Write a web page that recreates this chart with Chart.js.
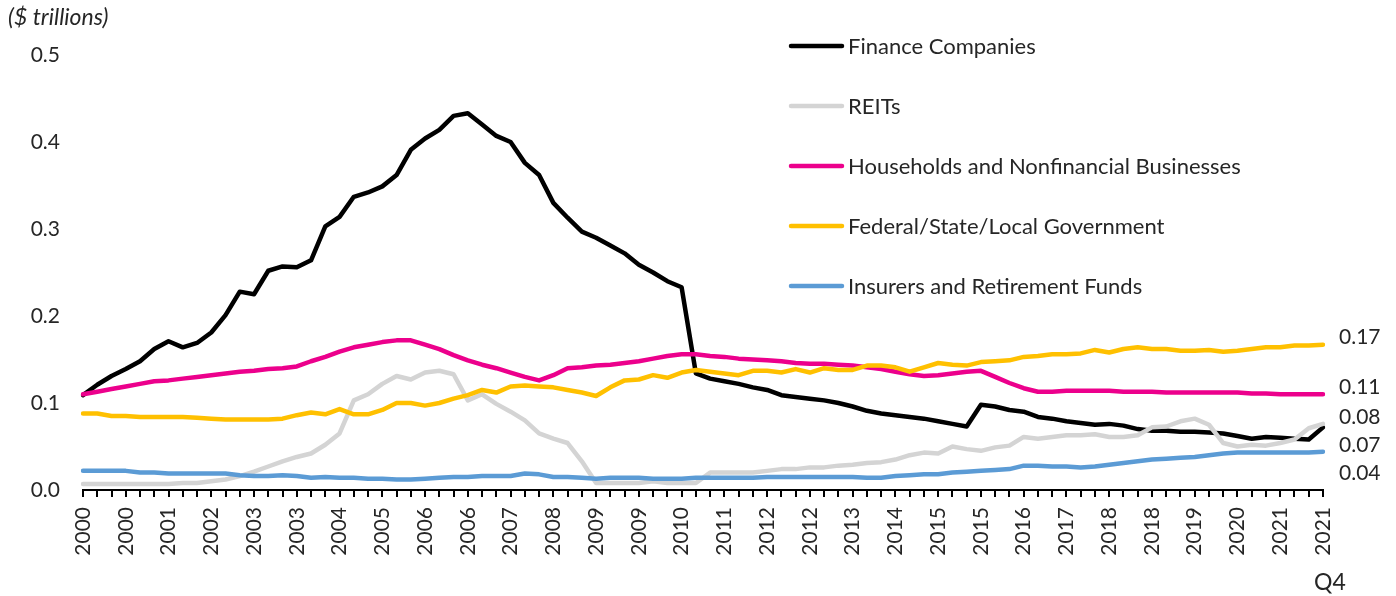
<!DOCTYPE html>
<html>
<head>
<meta charset="utf-8">
<title>Nonbank lenders</title>
<script src="https://cdn.jsdelivr.net/npm/chart.js"></script>
<style>
  html, body { margin: 0; padding: 0; background: #fff; }
  #wrap { position: relative; width: 1396px; height: 596px; }
</style>
</head>
<body>
<div id="wrap"><canvas id="chLine" width="1396" height="596"></canvas></div>
<script>
// quarterly, 2000 Q1 .. 2021 Q4
const years = [2000, 2001, 2002, 2003, 2004, 2005, 2006, 2007, 2008, 2009, 2010,
  2011, 2012, 2013, 2014, 2015, 2016, 2017, 2018, 2019, 2020, 2021];
const quarters = ["Q1", "Q2", "Q3", "Q4"];
const categories = [];
years.forEach(function (y) {
  quarters.forEach(function (q) { categories.push(y + " " + q); });
});

const seriesNames = ["Finance Companies", "REITs", "Households and Nonfinancial Businesses",
  "Federal/State/Local Government", "Insurers and Retirement Funds"];
const seriesColors = ["#000000", "#d4d4d4", "#ec008c", "#ffc000", "#5b9bd5"];

const financeCos = [0.109, 0.121, 0.131, 0.139, 0.148, 0.162, 0.171, 0.164, 0.169, 0.181,
  0.201, 0.228, 0.225, 0.252, 0.257, 0.256, 0.264, 0.303, 0.314, 0.337,
  0.342, 0.349, 0.362, 0.391, 0.404, 0.414, 0.430, 0.433, 0.420, 0.407,
  0.400, 0.376, 0.362, 0.330, 0.313, 0.297, 0.290, 0.281, 0.272, 0.259,
  0.250, 0.240, 0.233, 0.134, 0.128, 0.125, 0.122, 0.118, 0.115, 0.109,
  0.107, 0.105, 0.103, 0.100, 0.096, 0.091, 0.088, 0.086, 0.084, 0.082,
  0.079, 0.076, 0.073, 0.098, 0.096, 0.092, 0.090, 0.084, 0.082, 0.079,
  0.077, 0.075, 0.076, 0.074, 0.070, 0.068, 0.068, 0.067, 0.067, 0.066,
  0.065, 0.062, 0.059, 0.061, 0.060, 0.059, 0.058, 0.072];

const reits = [0.007, 0.007, 0.007, 0.007, 0.007, 0.007, 0.007, 0.008, 0.008, 0.010,
  0.012, 0.016, 0.021, 0.027, 0.033, 0.038, 0.042, 0.052, 0.065, 0.103,
  0.110, 0.122, 0.131, 0.127, 0.135, 0.137, 0.133, 0.103, 0.110, 0.099,
  0.090, 0.080, 0.065, 0.059, 0.054, 0.033, 0.008, 0.008, 0.008, 0.008,
  0.010, 0.008, 0.008, 0.008, 0.020, 0.020, 0.020, 0.020, 0.022, 0.024,
  0.024, 0.026, 0.026, 0.028, 0.029, 0.031, 0.032, 0.035, 0.040, 0.043,
  0.042, 0.050, 0.047, 0.045, 0.049, 0.051, 0.061, 0.059, 0.061, 0.063,
  0.063, 0.064, 0.061, 0.061, 0.063, 0.072, 0.073, 0.079, 0.082, 0.075,
  0.054, 0.050, 0.052, 0.051, 0.054, 0.058, 0.071, 0.076];

const households = [0.110, 0.113, 0.116, 0.119, 0.122, 0.125, 0.126, 0.128, 0.130, 0.132,
  0.134, 0.136, 0.137, 0.139, 0.140, 0.142, 0.148, 0.153, 0.159, 0.164,
  0.167, 0.170, 0.172, 0.172, 0.167, 0.162, 0.155, 0.149, 0.144, 0.140,
  0.135, 0.130, 0.126, 0.132, 0.140, 0.141, 0.143, 0.144, 0.146, 0.148,
  0.151, 0.154, 0.156, 0.156, 0.154, 0.153, 0.151, 0.150, 0.149, 0.148,
  0.146, 0.145, 0.145, 0.144, 0.143, 0.141, 0.139, 0.136, 0.133, 0.131,
  0.132, 0.134, 0.136, 0.137, 0.130, 0.123, 0.117, 0.113, 0.113, 0.114,
  0.114, 0.114, 0.114, 0.113, 0.113, 0.113, 0.112, 0.112, 0.112, 0.112,
  0.112, 0.112, 0.111, 0.111, 0.110, 0.110, 0.110, 0.110];

const government = [0.088, 0.088, 0.085, 0.085, 0.084, 0.084, 0.084, 0.084, 0.083, 0.082,
  0.081, 0.081, 0.081, 0.081, 0.082, 0.086, 0.089, 0.087, 0.093, 0.087,
  0.087, 0.092, 0.100, 0.100, 0.097, 0.100, 0.105, 0.109, 0.115, 0.112,
  0.119, 0.120, 0.119, 0.118, 0.115, 0.112, 0.108, 0.118, 0.126, 0.127,
  0.132, 0.129, 0.135, 0.138, 0.136, 0.134, 0.132, 0.137, 0.137, 0.135,
  0.139, 0.135, 0.140, 0.138, 0.138, 0.143, 0.143, 0.141, 0.136, 0.141,
  0.146, 0.144, 0.143, 0.147, 0.148, 0.149, 0.153, 0.154, 0.156, 0.156,
  0.157, 0.161, 0.158, 0.162, 0.164, 0.162, 0.162, 0.160, 0.160, 0.161,
  0.159, 0.160, 0.162, 0.164, 0.164, 0.166, 0.166, 0.167];

const insurers = [0.022, 0.022, 0.022, 0.022, 0.020, 0.020, 0.019, 0.019, 0.019, 0.019,
  0.019, 0.017, 0.016, 0.016, 0.017, 0.016, 0.014, 0.015, 0.014, 0.014,
  0.013, 0.013, 0.012, 0.012, 0.013, 0.014, 0.015, 0.015, 0.016, 0.016,
  0.016, 0.019, 0.018, 0.015, 0.015, 0.014, 0.013, 0.014, 0.014, 0.014,
  0.013, 0.013, 0.013, 0.014, 0.014, 0.014, 0.014, 0.014, 0.015, 0.015,
  0.015, 0.015, 0.015, 0.015, 0.015, 0.014, 0.014, 0.016, 0.017, 0.018,
  0.018, 0.020, 0.021, 0.022, 0.023, 0.024, 0.028, 0.028, 0.027, 0.027,
  0.026, 0.027, 0.029, 0.031, 0.033, 0.035, 0.036, 0.037, 0.038, 0.040,
  0.042, 0.043, 0.043, 0.043, 0.043, 0.043, 0.043, 0.044];

const yTicks = [0, 0.1, 0.2, 0.3, 0.4, 0.5];
const unitLabel = "($ trillions)";
const lastQuarterLabel = "Q4";

const FONT = "Lato";
const TEXT = "#262626";

const allSeries = [financeCos, reits, households, government, insurers];

const data = {
  labels: categories,
  datasets: allSeries.map(function (vals, i) {
    return {
      label: seriesNames[i],
      data: vals,
      borderColor: seriesColors[i],
      backgroundColor: seriesColors[i],
      borderWidth: 4.5,
      borderJoinStyle: "round",
      borderCapStyle: "round",
      pointRadius: 0,
      tension: 0,
      order: allSeries.length - i // later series drawn on top, like the original
    };
  })
};

// title, legend, end values and the Q4 tag
const extras = {
  id: "extras",
  afterDraw: function (chart) {
    const ctx = chart.ctx;
    const x = chart.scales.x;
    const y = chart.scales.y;
    ctx.save();

    ctx.fillStyle = TEXT;
    ctx.font = "italic 23px " + FONT;
    ctx.textAlign = "left";
    ctx.textBaseline = "middle";
    ctx.fillText(unitLabel, 8, 18);

    // legend
    ctx.font = "22px " + FONT;
    seriesNames.forEach(function (name, i) {
      const ly = 46 + i * 60;
      ctx.strokeStyle = seriesColors[i];
      ctx.lineWidth = 4.5;
      ctx.lineCap = "round";
      ctx.beginPath();
      ctx.moveTo(791, ly);
      ctx.lineTo(842, ly);
      ctx.stroke();
      ctx.fillStyle = TEXT;
      ctx.fillText(name, 848, ly + 1);
    });

    // last values, pushed apart so they don't collide
    ctx.font = "21px " + FONT;
    const last = allSeries.map(function (s) {
      const v = s[s.length - 1];
      return { text: v.toFixed(2), py: y.getPixelForValue(v) - 7 };
    }).sort(function (a, b) { return a.py - b.py; });
    for (let i = 1; i < last.length; i++) {
      if (last[i].py - last[i - 1].py < 28) last[i].py = last[i - 1].py + 28;
    }
    ctx.fillStyle = TEXT;
    last.forEach(function (l) { ctx.fillText(l.text, 1339, l.py); });

    ctx.font = "23px " + FONT;
    ctx.textAlign = "center";
    ctx.fillText(lastQuarterLabel, x.getPixelForValue(categories.length - 1) + 7, 583);
    ctx.restore();
  }
};

const config = {
  type: "line",
  data: data,
  options: {
    responsive: false,
    animation: false,
    devicePixelRatio: 1,
    layout: { padding: { top: 55, right: 73, bottom: 0, left: 0 } },
    plugins: { legend: { display: false }, tooltip: { enabled: false } },
    scales: {
      x: {
        type: "category",
        offset: false,
        afterFit: function (s) { s.height = 106; },
        border: { display: true, color: "#000", width: 2 },
        grid: { display: true, drawOnChartArea: false, drawTicks: true, tickLength: 7, color: "#000", lineWidth: 2 },
        ticks: {
          autoSkip: false,
          maxRotation: 90,
          minRotation: 90,
          padding: 10,
          color: TEXT,
          font: { family: FONT, size: 21 },
          callback: function (value, index) {
            return index % 3 === 0 ? this.getLabelForValue(value).slice(0, 4) : "";
          }
        }
      },
      y: {
        min: 0,
        max: 0.5,
        afterFit: function (s) { s.width = 83; },
        afterBuildTicks: function (s) { s.ticks = yTicks.map(function (v) { return { value: v }; }); },
        border: { display: false },
        grid: { display: false, drawTicks: false },
        ticks: {
          padding: 23,
          color: TEXT,
          font: { family: FONT, size: 21 },
          callback: function (v) { return v.toFixed(1); }
        }
      }
    }
  },
  plugins: [extras]
};

var myChart = new Chart(document.getElementById("chLine"), config);
</script>
</body>
</html>
